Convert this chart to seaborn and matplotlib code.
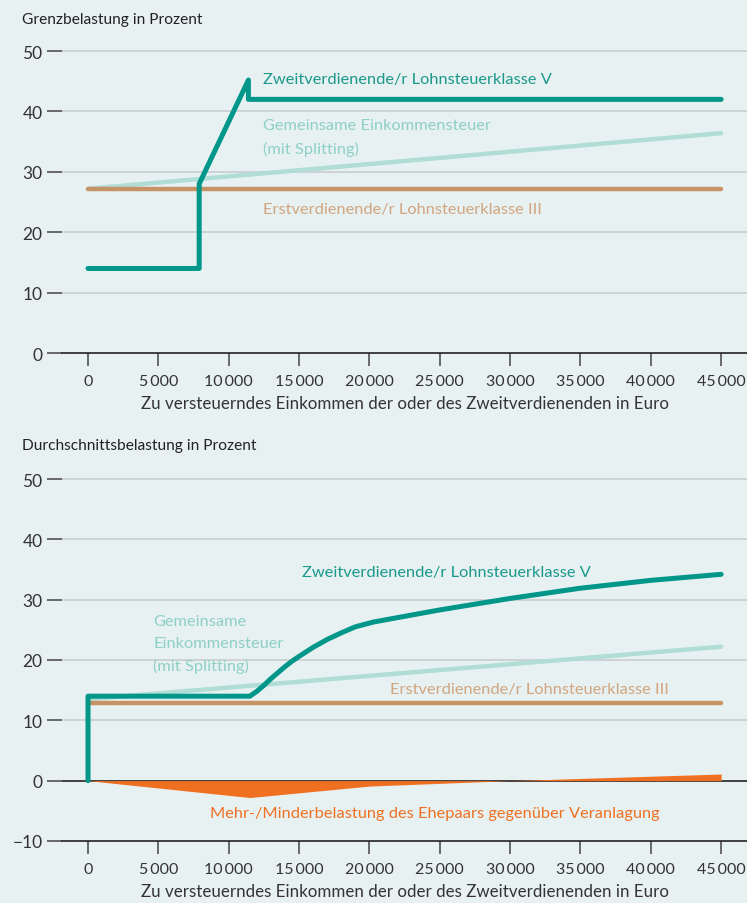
import numpy as np
import pandas as pd
import matplotlib
matplotlib.use("Agg")
import matplotlib.pyplot as plt
import seaborn as sns

# --- Data ---
# Grenzbelastung (marginal burden)
gb_zweit_x = [0, 7900, 7900, 11400, 11400, 45000]
gb_zweit_y = [14, 14, 28, 45.2, 42, 42]
gb_gemein_x = [0, 45000]
gb_gemein_y = [27.2, 36.4]
gb_erst_x = [0, 45000]
gb_erst_y = [27.1, 27.1]

# Durchschnittsbelastung (average burden)
db_zweit_x = [0, 0, 11500, 12000, 12500, 13000, 13500, 14000, 14500, 15000, 16000,
              17000, 18000, 19000, 20300, 25000, 30000, 35000, 40000, 45000]
db_zweit_y = [0, 14, 14, 14.8, 15.8, 16.9, 17.9, 18.9, 19.8, 20.6, 22.1,
              23.4, 24.5, 25.5, 26.3, 28.3, 30.2, 31.9, 33.2, 34.2]
db_gemein_x = [0, 45000]
db_gemein_y = [13.5, 22.2]
db_erst_x = [0, 45000]
db_erst_y = [12.8, 12.8]
db_diff_x = [0, 11500, 20000, 30000, 45000]
db_diff_y = [0, -2.8, -0.9, 0, 1.1]

xticks = list(range(0, 45001, 5000))
xtick_labels = ["0"] + [f"{v // 1000}\u2009000" for v in xticks[1:]]

xlabel = "Zu versteuerndes Einkommen der oder des Zweitverdienenden in Euro"

# --- Style ---
bg = "#E8F1F2"
teal = "#00968A"
light_teal = "#B0DDD5"
tan = "#C69366"
orange = "#F07022"
grid_c = "#C6CACC"

sns.set_theme(style="white")
plt.rcParams["font.family"] = ["Lato", "DejaVu Sans"]
plt.rcParams["text.color"] = "#333333"

fig = plt.figure(figsize=(7.47, 9.04), dpi=100, facecolor=bg)
ax1 = fig.add_axes([0.083, 0.6084, 0.917, 0.3407])
ax2 = fig.add_axes([0.083, 0.0686, 0.917, 0.4071])


def style_axis(ax, ymin, ymax, yticks):
    ax.set_facecolor(bg)
    ax.set_xlim(-1850, 46840)
    ax.set_ylim(ymin, ymax)
    for s in ["top", "right", "left"]:
        ax.spines[s].set_visible(False)
    ax.spines["bottom"].set_color("#222222")
    ax.spines["bottom"].set_linewidth(1.2)
    ax.set_yticks(yticks)
    ax.set_yticklabels(["\u2212" + str(-t) if t < 0 else str(t) for t in yticks])
    ax.set_xticks(xticks)
    ax.set_xticklabels(xtick_labels)
    ax.tick_params(axis="y", length=11, width=1.1, color="#444444", pad=3,
                   labelsize=12.5, labelcolor="#333333", left=True)
    ax.tick_params(axis="x", length=9, width=1.1, color="#444444", pad=6,
                   labelsize=11.5, labelcolor="#333333", bottom=True, direction="out")
    for t in yticks:
        if t > 0:
            ax.axhline(t, color=grid_c, lw=1.1, zorder=0)


# --- Top chart ---
style_axis(ax1, 0, 51, [0, 10, 20, 30, 40, 50])
sns.lineplot(x=gb_gemein_x, y=gb_gemein_y, ax=ax1, color=light_teal, lw=3.2,
             estimator=None, sort=False, solid_capstyle="round")
sns.lineplot(x=gb_erst_x, y=gb_erst_y, ax=ax1, color=tan, lw=3.2,
             estimator=None, sort=False, solid_capstyle="round")
sns.lineplot(x=gb_zweit_x, y=gb_zweit_y, ax=ax1, color=teal, lw=3.6,
             estimator=None, sort=False, solid_capstyle="round", solid_joinstyle="round")
ax1.set_xlabel(xlabel, fontsize=12.2, color="#333333", labelpad=5)
ax1.set_ylabel("")
ax1.text(12440, 45.4, "Zweitverdienende/r Lohnsteuerklasse V", color="#1A998B",
         fontsize=11.8, va="center")
ax1.text(12440, 35.8, "Gemeinsame Einkommensteuer\n(mit Splitting)", color="#8ED0C4",
         fontsize=11.8, va="center", linespacing=1.7)
ax1.text(12440, 23.8, "Erstverdienende/r Lohnsteuerklasse III", color="#D2A57F",
         fontsize=11.8, va="center")
fig.text(22 / 747, 1 - 20 / 904, "Grenzbelastung in Prozent", fontsize=11.2,
         va="center", ha="left", color="#222222")

# --- Bottom chart ---
style_axis(ax2, -10, 51, [-10, 0, 10, 20, 30, 40, 50])
ax2.axhline(0, color="#222222", lw=1.2, zorder=1)
ax2.fill_between(db_diff_x, db_diff_y, 0, color=orange, lw=0, zorder=2)
sns.lineplot(x=db_gemein_x, y=db_gemein_y, ax=ax2, color=light_teal, lw=3.2,
             estimator=None, sort=False, solid_capstyle="round")
sns.lineplot(x=db_erst_x, y=db_erst_y, ax=ax2, color=tan, lw=3.2,
             estimator=None, sort=False, solid_capstyle="round")
sns.lineplot(x=db_zweit_x, y=db_zweit_y, ax=ax2, color=teal, lw=3.6,
             estimator=None, sort=False, solid_capstyle="round", solid_joinstyle="round")
ax2.set_xlabel(xlabel, fontsize=12.2, color="#333333", labelpad=5)
ax2.set_ylabel("")
ax2.text(15200, 34.6, "Zweitverdienende/r Lohnsteuerklasse V", color="#1A998B",
         fontsize=11.8, va="center")
ax2.text(4620, 22.7, "Gemeinsame\nEinkommensteuer\n(mit Splitting)", color="#8ED0C4",
         fontsize=11.8, va="center", linespacing=1.7)
ax2.text(21460, 15.2, "Erstverdienende/r Lohnsteuerklasse III", color="#D2A57F",
         fontsize=11.8, va="center")
ax2.text(8670, -5.3, "Mehr-/Minderbelastung des Ehepaars gegenüber Veranlagung",
         color=orange, fontsize=11.8, va="center")
fig.text(22 / 747, 1 - 446 / 904, "Durchschnittsbelastung in Prozent", fontsize=11.2,
         va="center", ha="left", color="#222222")

fig.savefig("out.png", dpi=100, facecolor=bg)
